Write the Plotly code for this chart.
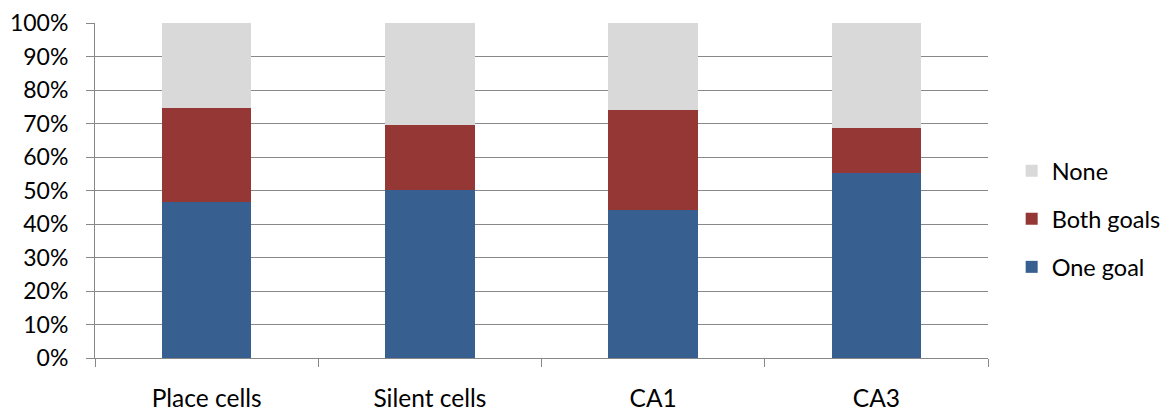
import plotly.graph_objects as go

categories = ["Place cells", "Silent cells", "CA1", "CA3"]
one_goal = [46.7, 50.1, 44.1, 55.1]
both_goals = [27.8, 19.4, 29.9, 13.7]
none = [25.5, 30.5, 26.0, 31.2]

series = [
    ("One goal", one_goal, "#375F8F", 3),
    ("Both goals", both_goals, "#953735", 2),
    ("None", none, "#D9D9D9", 1),
]

fig = go.Figure()
for i, (name, vals, color, rank) in enumerate(series):
    fig.add_trace(go.Bar(
        x=categories, y=vals, name=name, marker_color=color,
        marker_line_width=0, legendgroup=f"g{i}", legendrank=rank,
    ))

fig.update_layout(
    barmode="stack",
    bargap=0.6,
    width=1164, height=404,
    margin=dict(l=87, r=184, t=15, b=54, autoexpand=False),
    plot_bgcolor="white", paper_bgcolor="white",
    font=dict(family="Lato, Open Sans, sans-serif", size=23, color="black"),
    legend=dict(
        traceorder="grouped", tracegroupgap=14.5,
        x=1.0265, y=0.415, xanchor="left", yanchor="middle",
        font=dict(size=23.5), itemwidth=30,
    ),
    xaxis=dict(
        showline=True, linecolor="#888888", linewidth=1,
        ticks="outside", ticklen=8, tickcolor="#888888",
        tickson="boundaries", ticklabelstandoff=19,
        tickfont=dict(size=24.5),
        showgrid=False, automargin=False,
    ),
    yaxis=dict(
        range=[0, 100], dtick=10, ticksuffix="%",
        showline=True, linecolor="#888888", linewidth=1,
        ticks="outside", ticklen=8, tickcolor="#888888",
        showgrid=True, gridcolor="#888888", gridwidth=1,
        ticklabelstandoff=13, zeroline=False, automargin=False,
    ),
)

fig.write_html("out.html")
